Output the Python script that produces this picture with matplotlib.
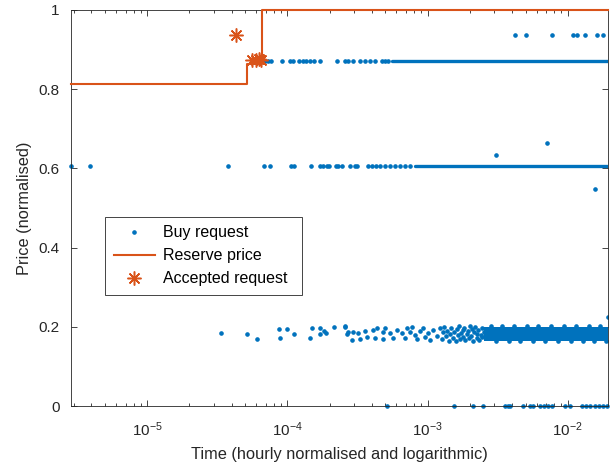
import numpy as np
import matplotlib.pyplot as plt
from matplotlib.ticker import LogLocator, FixedLocator

plt.rcParams['font.family'] = ['Liberation Sans', 'DejaVu Sans']
plt.rcParams['mathtext.fontset'] = 'custom'
plt.rcParams['mathtext.rm'] = 'Liberation Sans'
plt.rcParams['mathtext.it'] = 'Liberation Sans:italic'

blue = '#0072BD'
orange = '#D95319'
dark = '#262626'

# times are stored as log10(hourly normalised time)
# isolated buy requests, one list per price level
t_087 = [-4.18, -4.16, -4.135, -4.118, -4.036, -3.981, -3.962, -3.917, -3.886, -3.867,
         -3.838, -3.810, -3.767, -3.644, -3.589, -3.565, -3.530, -3.482, -3.446, -3.411,
         -3.375, -3.327, -3.304, -3.28]
p_087 = 0.872

t_060 = [-5.544, -5.406, -4.425, -4.164, -4.121, -3.976, -3.950, -3.831, -3.767, -3.748,
         -3.718, -3.700, -3.650, -3.637, -3.612, -3.553, -3.518, -3.500, -3.425, -3.396,
         -3.368, -3.339, -3.304, -3.268, -3.232, -3.197, -3.161, -3.125]
p_060 = 0.605

t_094 = [-2.377, -2.299, -2.113, -1.966, -1.935, -1.878, -1.788, -1.748]
p_094 = 0.937

t_000 = [-3.292, -2.810, -2.674, -2.607, -2.448, -2.427, -2.413, -2.322, -2.270, -2.249,
         -2.199, -2.170, -2.142, -2.115, -2.020, -1.985, -1.899, -1.871, -1.842, -1.807,
         -1.778, -1.750, -1.721]

t_odd = [-2.512, -2.147, -1.807, -1.716]
p_odd = [0.634, 0.665, 0.549, 0.225]

# low price cluster around 0.18
t_low = [-4.473, -4.285, -4.216, -4.059, -4.052, -4.002, -3.952, -3.840, -3.822, -3.767,
         -3.767, -3.736, -3.728, -3.667, -3.587, -3.577, -3.589, -3.565, -3.541, -3.530,
         -3.494, -3.482, -3.446, -3.434, -3.387, -3.375, -3.363, -3.320, -3.316, -3.304,
         -3.268, -3.244, -3.220, -3.185, -3.161, -3.149, -3.125, -3.113, -3.090, -3.078,
         -3.054, -3.031, -3.019, -2.995, -2.983, -2.959, -2.935, -2.912,
         -2.90, -2.89, -2.88, -2.87, -2.86, -2.85, -2.84, -2.83, -2.82, -2.81,
         -2.80, -2.79, -2.78, -2.775, -2.77, -2.76, -2.75, -2.745, -2.74, -2.73,
         -2.72, -2.71, -2.705, -2.70, -2.69, -2.68, -2.675, -2.67, -2.66, -2.65,
         -2.645, -2.64, -2.63, -2.62, -2.615, -2.61, -2.60,
         -2.55, -2.47, -2.38, -2.29, -2.21, -2.12, -2.03, -1.94, -1.85, -1.77,
         -2.51, -2.42, -2.34, -2.25, -2.16, -2.07, -1.98, -1.89, -1.81, -1.73]
p_low = [0.185, 0.183, 0.170, 0.194, 0.172, 0.194, 0.183, 0.172, 0.198, 0.197,
         0.183, 0.189, 0.184, 0.199, 0.201, 0.183, 0.200, 0.188, 0.167, 0.188,
         0.184, 0.169, 0.189, 0.175, 0.192, 0.171, 0.196, 0.188, 0.169, 0.196,
         0.184, 0.171, 0.192, 0.184, 0.173, 0.196, 0.188, 0.200, 0.179, 0.169,
         0.189, 0.196, 0.175, 0.184, 0.167, 0.192, 0.178, 0.196,
         0.170, 0.186, 0.199, 0.176, 0.190, 0.165, 0.182, 0.197, 0.173, 0.187,
         0.163, 0.194, 0.179, 0.201, 0.168, 0.185, 0.192, 0.174, 0.198, 0.166,
         0.181, 0.189, 0.171, 0.203, 0.177, 0.194, 0.164, 0.186, 0.199, 0.172,
         0.183, 0.191, 0.167, 0.180, 0.196, 0.175, 0.188,
         0.201, 0.202, 0.201, 0.202, 0.201, 0.202, 0.201, 0.202, 0.201, 0.202,
         0.164, 0.163, 0.164, 0.163, 0.164, 0.163, 0.164, 0.163, 0.164, 0.163]

# runs where requests arrive so often that the dots merge into a line: (start, end, price)
runs = [(-3.254, -1.713, 0.872), (-3.09, -1.713, 0.605)]
# solid block of low price requests
low_block = (-2.6, -1.713, 0.165, 0.2)

# reserve price steps
t_reserve = [-5.544, -4.289, -4.182, -1.713]
p_reserve = [0.812, 0.863, 1.0, 1.0]

# accepted requests
t_acc = [-4.366, -4.252, -4.226, -4.205, -4.185]
p_acc = [0.937, 0.873, 0.873, 0.875, 0.873]

x_lim = (-5.544, -1.713)

fig = plt.figure(figsize=(6.13, 4.69), dpi=100)
ax = fig.add_axes([0.1158, 0.1343, 0.876, 0.8444])
ax.set_xscale('log')

def tt(v):
    return 10.0 ** np.asarray(v, dtype=float)

ms = 4.6
for a, b, p in runs:
    ax.plot(tt([a, b]), [p, p], color=blue, lw=2.4, solid_capstyle='round', zorder=2)
ax.fill_between(tt(low_block[:2]), low_block[2], low_block[3], color=blue, lw=0, zorder=2)
ax.plot(tt(t_low), p_low, '.', color=blue, ms=ms, zorder=2)
ax.plot(tt(t_087), [p_087] * len(t_087), '.', color=blue, ms=ms, zorder=2)
ax.plot(tt(t_060), [p_060] * len(t_060), '.', color=blue, ms=ms, zorder=2, clip_on=False)
ax.plot(tt(t_094), [p_094] * len(t_094), '.', color=blue, ms=ms, zorder=2)
ax.plot(tt(t_odd), p_odd, '.', color=blue, ms=ms, zorder=2)
ax.plot(tt(t_000), [0] * len(t_000), '.', color=blue, ms=ms, zorder=2, clip_on=False)

ax.plot(tt(t_reserve), p_reserve, color=orange, lw=1.5, drawstyle='steps-post',
        zorder=4, clip_on=False)
ax.plot(tt(t_acc), p_acc, ls='none', marker=(8, 2, 0), ms=10, mec=orange, mew=1.1,
        color=orange, zorder=5)

ax.set_xlim(tt(x_lim))
ax.set_ylim(0, 1)
ax.set_yticks([0, 0.2, 0.4, 0.6, 0.8, 1])
ax.set_yticklabels(['0', '0.2', '0.4', '0.6', '0.8', '1'])
ax.xaxis.set_major_locator(FixedLocator([1e-5, 1e-4, 1e-3, 1e-2]))
ax.xaxis.set_minor_locator(LogLocator(base=10, subs=np.arange(2, 10)))

for s in ax.spines.values():
    s.set_color(dark)
    s.set_linewidth(0.6)
ax.tick_params(which='both', direction='in', top=True, right=True, colors=dark,
               labelsize=11, width=0.6)
ax.tick_params(which='major', length=4.5)
ax.tick_params(which='minor', length=2.5)
ax.tick_params(axis='x', which='major', pad=10)
ax.tick_params(axis='y', which='major', pad=8)

ax.set_xlabel('Time (hourly normalised and logarithmic)', fontsize=11.75, color=dark,
              labelpad=6)
ax.set_ylabel('Price (normalised)', fontsize=11.75, color=dark, labelpad=5)

h_buy, = ax.plot([], [], '.', color=blue, ms=ms)
h_res, = ax.plot([], [], color=orange, lw=1.5)
h_acc, = ax.plot([], [], ls='none', marker=(8, 2, 0), ms=10, mec=orange, mew=1.1)
leg = ax.legend([h_buy, h_res, h_acc], ['Buy request', 'Reserve price', 'Accepted request'],
                loc='lower left', bbox_to_anchor=(0.063, 0.28, 0.367, 0.2), mode='expand',
                fontsize=11.5, fancybox=False, framealpha=1, edgecolor=dark,
                handlelength=2.6, borderpad=0.55, labelspacing=0.5, handletextpad=0.5,
                borderaxespad=0)
leg.get_frame().set_linewidth(0.6)

fig.savefig('out.png', dpi=100)
